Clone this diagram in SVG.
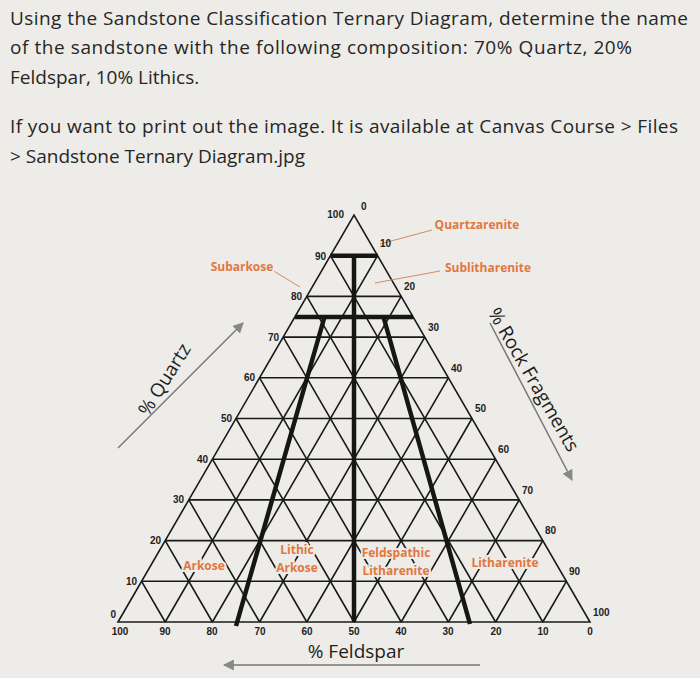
<svg xmlns="http://www.w3.org/2000/svg" width="700" height="678" viewBox="0 0 700 678">
<defs>
<style>
.hd{font-family:"Open Sans","DejaVu Sans",sans-serif;font-size:19px;fill:#262626}
.g{stroke:#1a1a1a;stroke-width:1.6;fill:none}
.tk{stroke:#161616;stroke-width:4.5;fill:none}
.n{font-family:"Liberation Sans",sans-serif;font-size:10px;font-weight:bold;fill:#222}
.or{font-family:"Open Sans","Liberation Sans",sans-serif;font-size:12px;font-weight:bold;fill:#e2773f;stroke:#edece8;stroke-width:4;paint-order:stroke;text-anchor:middle}
.ld{stroke:#d88a5f;stroke-width:1;fill:none}
.ax{font-family:"Open Sans","Liberation Sans",sans-serif;font-size:19px;fill:#1e1e1e;text-anchor:middle}
.ar{stroke:#777;stroke-width:1.5;fill:none}
</style>
<marker id="ah" viewBox="0 0 10 10" refX="9" refY="5" markerWidth="11" markerHeight="11" markerUnits="userSpaceOnUse" orient="auto"><path d="M0,0L10,5L0,10z" fill="#888"/></marker>
</defs>
<rect width="700" height="678" fill="#edece8"/>
<g id="header">
<text class="hd" x="10" y="25" textLength="678">Using the Sandstone Classification Ternary Diagram, determine the name</text>
<text class="hd" x="10" y="54" textLength="622">of the sandstone with the following composition: 70% Quartz, 20%</text>
<text class="hd" x="10" y="84">Feldspar, 10% Lithics.</text>
<text class="hd" x="10" y="133" textLength="668">If you want to print out the image. It is available at Canvas Course &gt; Files</text>
<text class="hd" x="10" y="163">&gt; Sandstone Ternary Diagram.jpg</text>
</g>
<g id="connectors">
<path class="g" d="M118,622L354,215L590,622Z"/>
<path class="g" d="M141.6,581.3H566.4M165.2,540.6H542.8M188.8,499.9H519.2M212.4,459.2H495.6M236,418.5H472M259.6,377.8H448.4M283.2,337.1H424.8M306.8,296.4H401.2M330.4,255.7H377.6"/>
<path class="g" d="M542.8,622L330.4,255.7M495.6,622L306.8,296.4M448.4,622L283.2,337.1M401.2,622L259.6,377.8M354,622L236,418.5M306.8,622L212.4,459.2M259.6,622L188.8,499.9M212.4,622L165.2,540.6M165.2,622L141.6,581.3"/>
<path class="g" d="M165.2,622L377.6,255.7M212.4,622L401.2,296.4M259.6,622L424.8,337.1M306.8,622L448.4,377.8M354,622L472,418.5M401.2,622L495.6,459.2M448.4,622L519.2,499.9M495.6,622L542.8,540.6M542.8,622L566.4,581.3"/>
<path class="tk" d="M330.4,255.7H377.6M295,317H413M354,255.7V622M324.5,317L236,626M383.5,317L470,624"/>
<path class="ld" d="M380,244L432,230M300,287L272,270M375,283L440,271"/>
<path class="ar" d="M118,448L243,323" marker-end="url(#ah)"/>
<path class="ar" d="M490,323L572,480" marker-end="url(#ah)"/>
<path class="ar" d="M480,665H224" marker-end="url(#ah)"/>
</g>
<g id="quartz-scale" class="n" text-anchor="end">
<text x="344" y="218">100</text>
<text x="326" y="260">90</text>
<text x="302" y="300">80</text>
<text x="279" y="341">70</text>
<text x="255" y="381">60</text>
<text x="232" y="422">50</text>
<text x="208" y="463">40</text>
<text x="184" y="503">30</text>
<text x="161" y="544">20</text>
<text x="137" y="585">10</text>
<text x="116" y="618">0</text>
</g>
<g id="rock-scale" class="n">
<text x="361" y="210">0</text>
<text x="380" y="247">10</text>
<text x="404" y="290">20</text>
<text x="428" y="331">30</text>
<text x="451" y="372">40</text>
<text x="475" y="412">50</text>
<text x="498" y="453">60</text>
<text x="522" y="494">70</text>
<text x="545" y="534">80</text>
<text x="569" y="575">90</text>
<text x="593" y="616">100</text>
</g>
<g id="feldspar-scale" class="n" text-anchor="middle">
<text x="120" y="635">100</text>
<text x="165" y="635">90</text>
<text x="212" y="635">80</text>
<text x="260" y="635">70</text>
<text x="307" y="635">60</text>
<text x="354" y="635">50</text>
<text x="401" y="635">40</text>
<text x="448" y="635">30</text>
<text x="496" y="635">20</text>
<text x="543" y="635">10</text>
<text x="590" y="635">0</text>
</g>
<g id="labels">
<text class="or" x="477" y="229">Quartzarenite</text>
<text class="or" x="242" y="271">Subarkose</text>
<text class="or" x="488" y="272">Sublitharenite</text>
<text class="or" x="204" y="570">Arkose</text>
<text class="or" x="297" y="554">Lithic</text>
<text class="or" x="297" y="572">Arkose</text>
<text class="or" x="396" y="557">Feldspathic</text>
<text class="or" x="396" y="575">Litharenite</text>
<text class="or" x="505" y="567">Litharenite</text>
</g>
<g id="axes">
<text class="ax" transform="translate(170,383) rotate(-58)">% Quartz</text>
<text class="ax" transform="translate(528,383) rotate(60)">% Rock Fragments</text>
<text class="ax" x="356" y="658">% Feldspar</text>
</g>
</svg>
